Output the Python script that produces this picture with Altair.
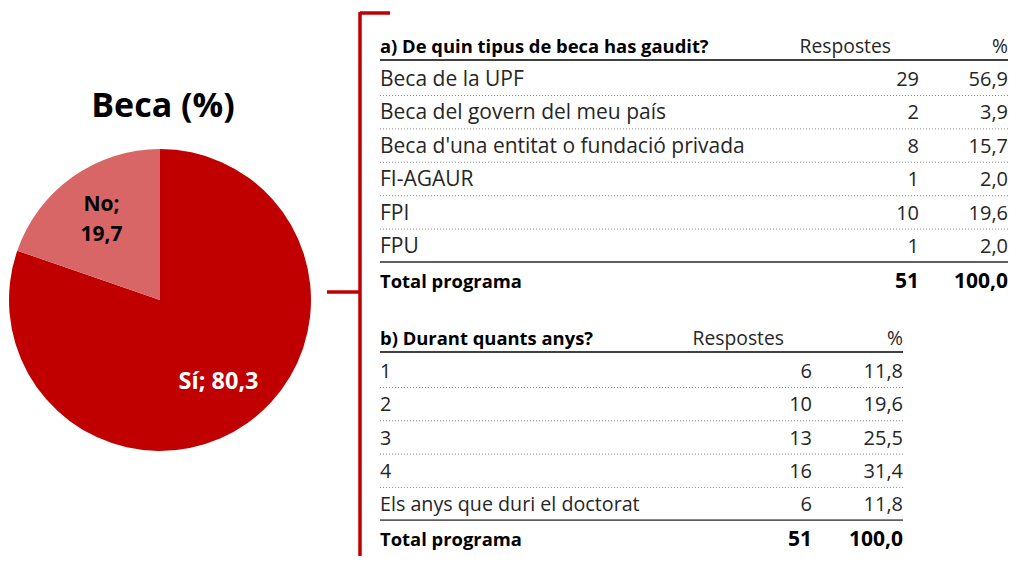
import altair as alt
import pandas as pd

# ---------------- data ----------------
pie_labels = ["Sí", "No"]
pie_values = [80.3, 19.7]
pie_title = "Beca (%)"

a_title = "a) De quin tipus de beca has gaudit?"
a_cats = ["Beca de la UPF", "Beca del govern del meu país",
          "Beca d'una entitat o fundació privada", "FI-AGAUR", "FPI", "FPU"]
a_resp = [29, 2, 8, 1, 10, 1]
a_pct = [56.9, 3.9, 15.7, 2.0, 19.6, 2.0]
a_total = [51, 100.0]

b_title = "b) Durant quants anys?"
b_cats = ["1", "2", "3", "4", "Els anys que duri el doctorat"]
b_resp = [6, 10, 13, 16, 6]
b_pct = [11.8, 19.6, 25.5, 31.4, 11.8]
b_total = [51, 100.0]

col_resp = "Respostes"
col_pct = "%"
total_label = "Total programa"

# ---------------- layout ----------------
FONT = "Open Sans"
W, H = 1001, 548
X = alt.Scale(domain=[8, 8 + W], range=[0, W])
Y = alt.Scale(domain=[8, 8 + H], range=[0, H])
DARK = "#C00000"
LIGHT = "#D96666"
TXT = "#262626"


def fmt(v):
    return f"{v:.1f}".replace(".", ",")


texts = []   # px, py, text, grp
rules = []   # x1, x2, y, kind


def table(tag, title, cats, resp, pct, total, y0, left, resp_x, pct_x, head_resp_x, step):
    texts.append(dict(px=left, py=y0, text=title, grp="hb"))
    texts.append(dict(px=head_resp_x, py=y0, text=col_resp, grp="hr"))
    texts.append(dict(px=pct_x, py=y0, text=col_pct, grp="hr"))
    rules.append(dict(x1=left, x2=pct_x, y=y0 + 14, kind="head"))
    ys = []
    for i, (c, r, p) in enumerate(zip(cats, resp, pct)):
        yy = y0 + 33 + i * step
        ys.append(yy)
        texts.append(dict(px=left, py=yy, text=c, grp=tag + "lr"))
        texts.append(dict(px=resp_x, py=yy, text=str(r), grp="nr"))
        texts.append(dict(px=pct_x, py=yy, text=fmt(p), grp="nr"))
        if i < len(cats) - 1:
            rules.append(dict(x1=left, x2=pct_x, y=yy + 16.5, kind="dot"))
    rules.append(dict(x1=left, x2=pct_x, y=ys[-1] + 16, kind="tot"))
    ty = ys[-1] + 35
    texts.append(dict(px=left, py=ty, text=total_label, grp="hb"))
    texts.append(dict(px=resp_x, py=ty, text=str(total[0]), grp="rb"))
    texts.append(dict(px=pct_x, py=ty, text=fmt(total[1]), grp="rb"))


table("a", a_title, a_cats, a_resp, a_pct, a_total, 46, 380, 919, 1008, 891, 33.4)
table("b", b_title, b_cats, b_resp, b_pct, b_total, 338, 380, 812, 903, 784, 33.3)

tdf = pd.DataFrame(texts)
rdf = pd.DataFrame(rules)

bracket = pd.DataFrame([
    dict(x1=360, x2=360, y1=12, y2=8 + H),
    dict(x1=360, x2=390, y1=13, y2=13),
    dict(x1=327, x2=360, y1=292, y2=292),
])

pie_df = pd.DataFrame({"label": pie_labels, "value": pie_values,
                       "order": list(range(len(pie_labels)))})
pie_df["txt"] = [f"{l}; {fmt(v)}" if l == "Sí" else f"{l};\n{fmt(v)}"
                 for l, v in zip(pie_labels, pie_values)]

CX, CY, R = 160 - 8, 300 - 8, 151

arc = alt.Chart(pie_df).mark_arc(outerRadius=R).encode(
    theta=alt.Theta("value:Q", stack=True),
    order=alt.Order("order:Q"),
    color=alt.Color("label:N", scale=alt.Scale(domain=pie_labels, range=[DARK, LIGHT]), legend=None),
    x=alt.value(CX), y=alt.value(CY),
)


def arc_label(which, color, dy, size):
    return alt.Chart(pie_df).transform_calculate(
        show=f"datum.label == '{which}' ? datum.txt : ''"
    ).mark_text(
        radius=101, font=FONT, fontSize=size, fontWeight="bold", lineBreak="\n",
        align="center", baseline="middle", lineHeight=30, dy=dy, color=color,
    ).encode(
        theta=alt.Theta("value:Q", stack=True),
        order=alt.Order("order:Q"),
        text="show:N",
        x=alt.value(CX), y=alt.value(CY),
    )


title_df = pd.DataFrame({"t": [pie_title], "px": [163], "py": [107]})
title = alt.Chart(title_df).mark_text(font=FONT, fontSize=34, fontWeight="bold",
                                      align="center", baseline="middle", color="black").encode(
    x=alt.X("px:Q", scale=X, axis=None), y=alt.Y("py:Q", scale=Y, axis=None), text="t:N")

br = alt.Chart(bracket).mark_rule(color=DARK, strokeWidth=3.5).encode(
    x=alt.X("x1:Q", scale=X, axis=None), x2="x2:Q",
    y=alt.Y("y1:Q", scale=Y, axis=None), y2="y2:Q")


def rlayer(kind, color, width, dash=None):
    kw = dict(color=color, strokeWidth=width)
    if dash:
        kw["strokeDash"] = dash
    return alt.Chart(rdf).transform_filter(alt.datum.kind == kind).mark_rule(**kw).encode(
        x=alt.X("x1:Q", scale=X, axis=None), x2="x2:Q", y=alt.Y("y:Q", scale=Y, axis=None))


def tlayer(grp, align, weight, size, color):
    return alt.Chart(tdf).transform_filter(alt.datum.grp == grp).mark_text(
        font=FONT, fontSize=size, fontWeight=weight, align=align, baseline="middle",
        color=color, dy=1).encode(
        x=alt.X("px:Q", scale=X, axis=None), y=alt.Y("py:Q", scale=Y, axis=None), text="text:N")


chart = alt.layer(
    arc, arc_label("Sí", "white", 0, 23.5), arc_label("No", "black", -13, 21), title, br,
    rlayer("head", "#404040", 1.8), rlayer("tot", "#606060", 1.8),
    rlayer("dot", "#8c8c8c", 1, [1, 2]),
    tlayer("alr", "left", "normal", 21, TXT),
    tlayer("blr", "left", "normal", 19.7, TXT),
    tlayer("nr", "right", "normal", 20, TXT),
    tlayer("hr", "right", "normal", 19.3, TXT),
    tlayer("hb", "left", "bold", 18.4, "black"),
    tlayer("rb", "right", "bold", 21, "black"),
).properties(width=W, height=H, padding=0, autosize="none",
             background="white").configure_view(stroke=None)

chart.save("out.html", embed_options={"renderer": "svg", "actions": False})
